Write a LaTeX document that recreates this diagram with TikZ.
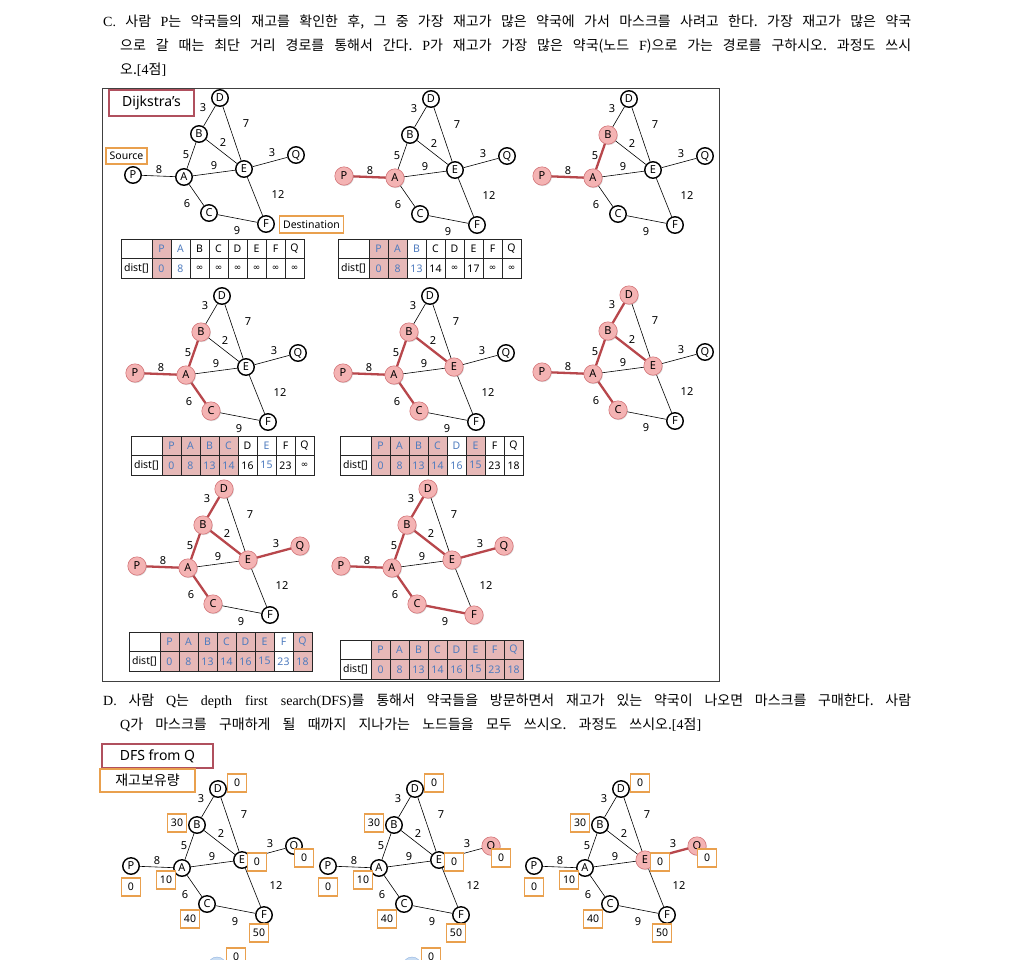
\documentclass[tikz,border=0pt]{standalone}
\usepackage{fontspec}
\setmainfont{Noto Sans CJK KR}
\newfontfamily\kr{Noto Sans CJK KR}
\newfontfamily\gf{Noto Sans}
\newfontfamily\ser{Liberation Serif}
\newfontfamily\dv{DejaVu Sans}
\usetikzlibrary{shadows}
\frenchspacing
\definecolor{hlred}{HTML}{B8474C}
\definecolor{pinkf}{HTML}{F4B3B3}
\definecolor{pinkd}{HTML}{D97A7E}
\definecolor{cellp}{HTML}{E6B8B7}
\definecolor{blu}{HTML}{4F7CBF}
\definecolor{org}{HTML}{E9A04E}
\definecolor{boxr}{HTML}{B0505E}
\definecolor{lblue}{HTML}{C9DDF3}
\definecolor{lblued}{HTML}{8FB2E0}
\newcommand\infy{{\dv\fontsize{9}{9}\selectfont ∞}}
\newcommand\bodyf{\kr\fontsize{14}{14}\selectfont}
\tikzset{
 gn/.style={circle,draw,line width=1.4pt,fill=white,minimum size=16.5pt,inner sep=0pt,font=\gf\fontsize{11}{11}\selectfont},
 hn/.style={circle,draw=pinkd,line width=0.6pt,fill=pinkf,minimum size=18.4pt,inner sep=0pt,font=\gf\fontsize{11}{11}\selectfont,drop shadow={shadow xshift=0.7pt,shadow yshift=-0.9pt,opacity=0.3}},
 ge/.style={line width=0.6pt},
 he/.style={line width=2.3pt,draw=hlred},
 wl/.style={inner sep=0pt,font=\gf\fontsize{11}{11}\selectfont},
 tc/.style={inner sep=0pt,font=\gf\fontsize{10.5}{10.5}\selectfont},
 tl/.style={line width=0.6pt,draw=black!85},
 vbox/.style={draw=org,line width=1.2pt,fill=white,minimum width=19pt,minimum height=18pt,inner sep=0pt,font=\gf\fontsize{10.5}{10.5}\selectfont},
 obox/.style={draw=org,line width=1.2pt,fill=white,inner sep=0pt},
 rbox/.style={draw=boxr,line width=1.2pt,fill=white,inner sep=0pt},
 bodyline/.style={anchor=west,inner sep=0pt}
}
% graph: prefix, x of A, y of A
\newcommand\graphat[3]{%
\begin{scope}[shift={(#2,#3)}]
 \node[gn] (#1P) at (-51,-2) {P};
 \node[gn] (#1A) at (0,0) {A};
 \node[gn] (#1B) at (15,-43) {B};
 \node[gn] (#1D) at (36,-79) {D};
 \node[gn] (#1E) at (60,-8) {E};
 \node[gn] (#1Q) at (112,-22) {Q};
 \node[gn] (#1C) at (25,36) {C};
 \node[gn] (#1F) at (82,47) {F};
 \draw[ge] (#1P)--(#1A) (#1A)--(#1B) (#1B)--(#1D) (#1B)--(#1E) (#1D)--(#1E)
   (#1A)--(#1E) (#1E)--(#1Q) (#1A)--(#1C) (#1C)--(#1F) (#1E)--(#1F);
 \node[wl] (#1l1) at (-25,-7) {8};
 \node[wl] (#1l2) at (2,-22) {5};
 \node[wl] (#1l3) at (19,-69) {3};
 \node[wl] (#1l4) at (39,-34) {2};
 \node[wl] (#1l5) at (62,-53) {7};
 \node[wl] (#1l6) at (30,-11) {9};
 \node[wl] (#1l7) at (88,-24) {3};
 \node[wl] (#1l8) at (3,27) {6};
 \node[wl] (#1l9) at (94,18) {12};
 \node[wl] (#1l10) at (53,54) {9};
\end{scope}}
% highlight: prefix, nodes, edges
\newcommand\hilite[3]{%
 \foreach \a/\b in {#3} {\draw[he] (#1\a)--(#1\b);}
 \foreach \n in {#2} {\node[hn] (#1h\n) at (#1\n) {\n};}
}
% table: prefix, x, y, data
\newcommand\dtab[4]{%
\begin{scope}[shift={(#2,#3)}]
 \foreach[count=\i] \s/\c/\L/\v in {#4}{%
  \ifnum\s=1 \fill[cellp] ({12+19*\i},0) rectangle ++(19,39);\fi
  \node[tc,text=\c] (#1h\i) at ({21.5+19*\i},9.75) {\L};
  \node[tc,text=\c] (#1v\i) at ({21.5+19*\i},29.25) {\v};
 }
 \node[tc] (#1d) at (15.5,29.25) {dist[]};
 \draw[tl] (0,0) rectangle (183,39);
 \draw[tl] (0,19.5) -- (183,19.5);
 \foreach \k in {0,...,7} \draw[tl] ({31+19*\k},0) -- ({31+19*\k},39);
\end{scope}}
% DFS boxes: prefix, x, y of A
\newcommand\dfsboxes[3]{%
\begin{scope}[shift={(#2,#3)}]
 \node[vbox] (#1vD) at (55,-85) {0};
 \node[vbox] (#1vB) at (-5,-45) {30};
 \node[vbox] (#1vE) at (75,-6) {0};
 \node[vbox] (#1vQ) at (122,-10) {0};
 \node[vbox] (#1vP) at (-51,19) {0};
 \node[vbox] (#1vA) at (-16,12) {10};
 \node[vbox] (#1vC) at (8,51) {40};
 \node[vbox] (#1vF) at (77,65) {50};
\end{scope}}
\begin{document}
\begin{tikzpicture}[x=1pt,y=-1pt]
\useasboundingbox (0,0) rectangle (1012,959);
\fill[white] (0,0) rectangle (1012,959);
\begin{scope}
\clip (0,0) rectangle (1012,959);
% ---- question C text
\node[bodyline] (c1) at (103,22) {\bodyf\makebox[808pt][s]{{\ser C.} 사람 {\ser P}는 약국들의 재고를 확인한 후, 그 중 가장 재고가 많은 약국에 가서 마스크를 사려고 한다. 가장 재고가 많은 약국}};
\node[bodyline] (c2) at (120,46) {\bodyf\makebox[791pt][s]{으로 갈 때는 최단 거리 경로를 통해서 간다. {\ser P}가 재고가 가장 많은 약국(노드 {\ser F})으로 가는 경로를 구하시오. 과정도 쓰시}};
\node[bodyline] (c3) at (120,70) {\bodyf 오.{\ser [4}점{\ser ]}};
% ---- frame
\draw[line width=1pt,draw=black!75] (102,88) rectangle (719,681);
\node[rbox,minimum width=85pt,minimum height=26pt,font=\gf\fontsize{14}{14}\selectfont] (dij) at (151.5,103) {Dijkstra’s};
% ---- panels
\graphat{a}{184}{177}
\graphat{b}{395}{178}
\hilite{b}{P,A}{P/A}
\graphat{c}{593}{178}
\hilite{c}{P,A,B}{P/A,A/B}
\graphat{d}{186}{375}
\hilite{d}{P,A,B,C}{P/A,A/B,A/C}
\graphat{e}{394}{375}
\hilite{e}{P,A,B,C,E}{P/A,A/B,A/C,B/E}
\graphat{f}{593}{374}
\hilite{f}{P,A,B,C,D,E}{P/A,A/B,A/C,B/E,B/D}
\graphat{g}{188}{568}
\hilite{g}{P,A,B,C,D,E,Q}{P/A,A/B,A/C,B/E,B/D,E/Q}
\graphat{h}{392}{568}
\hilite{h}{P,A,B,C,D,E,Q,F}{P/A,A/B,A/C,B/E,B/D,E/Q,C/F}
\node[obox,minimum width=41pt,minimum height=16pt,font=\gf\fontsize{10.5}{10.5}\selectfont] (src) at (126.5,156) {Source};
\node[obox,minimum width=64pt,minimum height=17pt,font=\gf\fontsize{10.5}{10.5}\selectfont] (dst) at (311.5,224.5) {Destination};
% ---- tables
\dtab{t1}{121}{239}{1/blu/P/0,0/blu/A/8,0/black/B/\infy,0/black/C/\infy,0/black/D/\infy,0/black/E/\infy,0/black/F/\infy,0/black/Q/\infy}
\dtab{t2}{338}{239}{1/blu/P/0,1/blu/A/8,0/blu/B/13,0/black/C/14,0/black/D/\infy,0/black/E/17,0/black/F/\infy,0/black/Q/\infy}
\dtab{t3}{131}{436}{1/blu/P/0,1/blu/A/8,1/blu/B/13,1/blu/C/14,0/black/D/16,0/blu/E/15,0/black/F/23,0/black/Q/\infy}
\dtab{t4}{340}{436}{1/blu/P/0,1/blu/A/8,1/blu/B/13,1/blu/C/14,0/blu/D/16,1/blu/E/15,0/black/F/23,0/black/Q/18}
\dtab{t5}{129}{632}{1/blu/P/0,1/blu/A/8,1/blu/B/13,1/blu/C/14,1/blu/D/16,1/blu/E/15,0/blu/F/23,1/blu/Q/18}
\dtab{t6}{340}{640}{1/blu/P/0,1/blu/A/8,1/blu/B/13,1/blu/C/14,1/blu/D/16,1/blu/E/15,1/blu/F/23,1/blu/Q/18}
% ---- question D text
\node[bodyline] (d1) at (103,701) {\bodyf\makebox[808pt][s]{{\ser D.} 사람 {\ser Q}는 {\ser depth first search(DFS)}를 통해서 약국들을 방문하면서 재고가 있는 약국이 나오면 마스크를 구매한다. 사람}};
\node[bodyline] (d2) at (120,725) {\bodyf\makebox[581pt][s]{{\ser Q}가 마스크를 구매하게 될 때까지 지나가는 노드들을 모두 쓰시오. 과정도 쓰시오.{\ser [4}점{\ser ]}}};
\node[rbox,minimum width=111pt,minimum height=24pt,font=\gf\fontsize{14}{14}\selectfont] (dfs) at (157.5,756) {DFS from Q};
\node[obox,minimum width=95pt,minimum height=23pt,font=\kr\fontsize{14}{14}\selectfont] (stk) at (147.5,780.5) {재고보유량};
% ---- DFS panels
\graphat{p}{182}{868}
\dfsboxes{p}{182}{868}
\graphat{q}{379}{868}
\hilite{q}{Q}{}
\dfsboxes{q}{379}{868}
\graphat{r}{585}{868}
\hilite{r}{E,Q}{E/Q}
\dfsboxes{r}{585}{868}
% ---- partially visible next row
\node[circle,draw=lblued,fill=lblue,minimum size=18pt,inner sep=0pt] (x1) at (217,966) {};
\node[vbox] (x1b) at (236,957) {0};
\node[circle,draw=lblued,fill=lblue,minimum size=18pt,inner sep=0pt] (x2) at (412,966) {};
\node[vbox] (x2b) at (431,957) {0};
\end{scope}
\end{tikzpicture}
\end{document}
